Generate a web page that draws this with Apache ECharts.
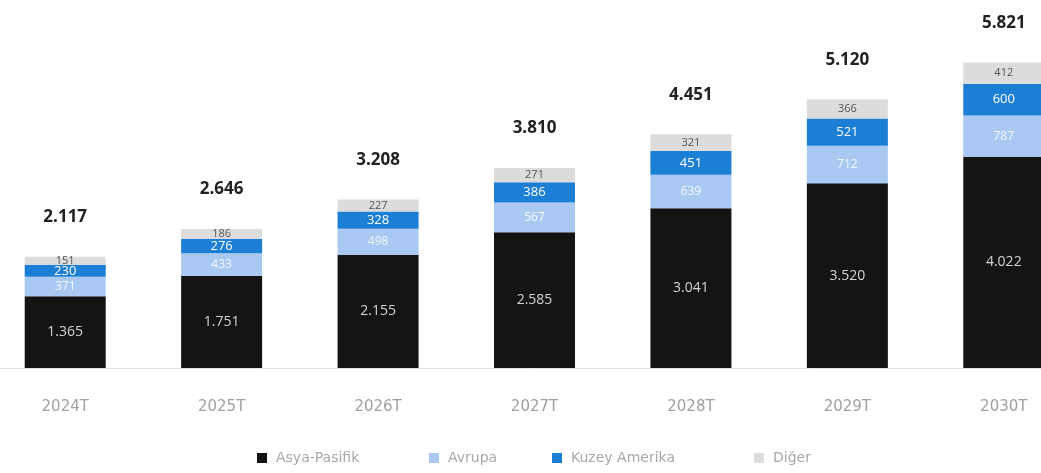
<!DOCTYPE html>
<html><head><meta charset="utf-8">
<script src="https://cdn.jsdelivr.net/npm/echarts@6/dist/echarts.min.js"></script>
<style>html,body{margin:0;padding:0;background:#fff;overflow:hidden;width:1041px;height:473px;position:relative}
#c{position:absolute;left:-13px;top:0;width:1095px;height:473px}</style>
</head><body><div id="c"></div>
<script>
const categories = ['2024T','2025T','2026T','2027T','2028T','2029T','2030T'];
const asyaPasifik = [1365,1751,2155,2585,3041,3520,4022];
const avrupa = [371,433,498,567,639,712,787];
const kuzeyAmerika = [230,276,328,386,451,521,600];
const diger = [151,186,227,271,321,366,412];
const totals = [2117,2646,3208,3810,4451,5120,5821];
const seriesNames = ['Asya-Pasifik','Avrupa','Kuzey Amerika','Diğer'];

function fmt(v){ return String(v).replace(/\B(?=(\d{3})+(?!\d))/g,'.'); }
const FONT = 'Open Sans';
function seg(name, data, color, labelColor, size){
  return {name, type:'bar', stack:'t', data, barWidth:81,
    itemStyle:{color},
    label:{show:true, position:'inside', color:labelColor, fontFamily:FONT, fontSize:size,
      formatter:p=>fmt(p.value)}};
}
const legendLefts = [265, 437, 560, 762];
const chart = echarts.init(document.getElementById('c'));
chart.setOption({
  animation:false,
  grid:{left:0, right:0, top:53, bottom:105, containLabel:false},
  legend: seriesNames.map((n,i)=>({data:[n], left:legendLefts[i], top:446, itemWidth:10, itemHeight:10,
    icon:'rect', itemGap:0, textStyle:{color:'#a8a8a8', fontFamily:'DejaVu Sans', fontSize:14, padding:[0,0,0,4]}})),
  xAxis:{type:'category', data:categories,
    axisLine:{lineStyle:{color:'#e2e2e2', width:1}}, axisTick:{show:false},
    axisLabel:{color:'#a0a0a0', fontFamily:'DejaVu Sans', fontSize:15, margin:32}},
  yAxis:{type:'value', min:0, max:6000, show:false, splitLine:{show:false}},
  series:[
    seg('Asya-Pasifik', asyaPasifik, '#141414', '#d4d4d4', 14),
    seg('Avrupa', avrupa, '#a9c9f2', '#f4f8ff', 12),
    seg('Kuzey Amerika', kuzeyAmerika, '#1c7fd6', '#ffffff', 13),
    seg('Diğer', diger, '#dcdcdc', '#555555', 11),
    {name:'Toplam', type:'bar', stack:'t', data:totals.map(()=>0), barWidth:81,
      itemStyle:{color:'transparent'},
      label:{show:true, position:'top', distance:31, color:'#222', fontWeight:'bold',
        fontFamily:FONT, fontSize:17, formatter:p=>fmt(totals[p.dataIndex])}}
  ]
});
</script></body></html>
